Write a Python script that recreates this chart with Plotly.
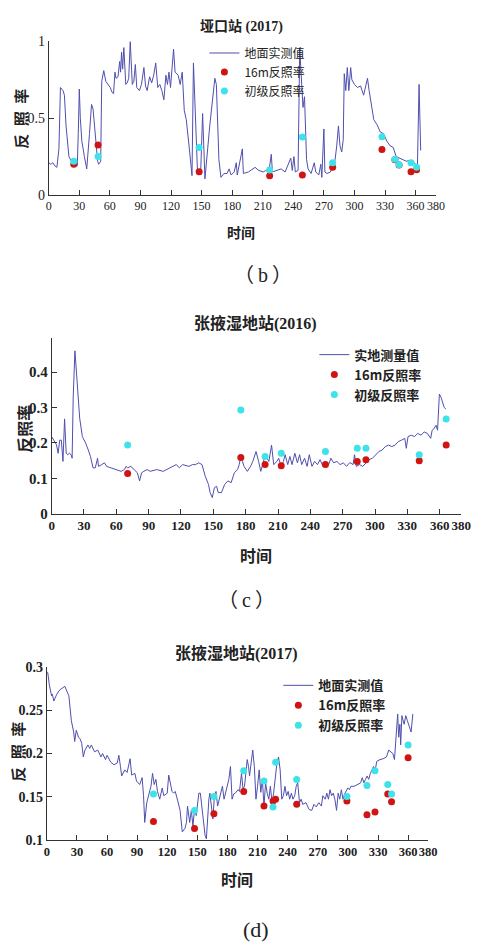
import plotly.graph_objects as go

# ---------------- (b) 垭口站 (2017) ----------------
b_days = [0, 2, 4, 6, 8, 10, 11.5, 13, 14, 15.4, 17, 19.8, 23, 25, 28, 29, 30, 31, 32.5, 35, 37.3, 40, 42, 43.5, 46, 48, 49, 51,
          52, 54, 56, 58, 60.4, 62, 63.6, 65, 66, 68, 69.6, 70.5, 71.5, 72.5, 73.7, 75.6, 77, 78.5, 80, 82, 83.5, 85, 86.4, 89,
          91, 93.4, 95, 96.6, 99, 101, 103, 105, 107, 109, 111, 113, 115, 116.5, 118, 119.5, 120.5, 122.5, 124, 127, 129, 131,
          133, 135, 138, 140.6, 142, 144, 146, 149, 151, 153.3, 158, 163, 164.5, 167, 169, 172, 175, 177, 179, 182, 184, 185,
          190, 191, 196, 202.5, 206, 210.5, 213, 216, 218.4, 219.5, 228, 232, 237.5, 239, 240.6, 242, 244.7, 246.3, 248, 249.5,
          251, 252, 253, 254.5, 257.4, 260.6, 262, 265, 267, 268, 270, 271, 273, 276.4, 278.5, 281, 282.6, 284.3, 285.8, 287.5,
          289, 290, 291.5, 293, 294.5, 296.3, 297.5, 300, 303, 306, 309, 311, 312.8, 314.4, 316, 319, 322, 325.4, 328.5, 331.8,
          335, 338, 341, 344.4, 347.6, 350.8, 354, 357, 360, 361.8, 363.4, 365]
b_vals = [0.21, 0.2, 0.21, 0.19, 0.18, 0.3, 0.7, 0.69, 0.68, 0.65, 0.45, 0.25, 0.21, 0.2, 0.19, 0.4, 0.69, 0.5, 0.35, 0.25, 0.17,
          0.4, 0.59, 0.56, 0.35, 0.22, 0.2, 0.22,
          0.74, 0.81, 0.74, 0.72, 0.7, 0.67, 0.66, 0.8, 0.76, 0.77, 0.87, 0.8, 0.93, 0.82, 0.96, 0.72, 0.73, 0.76, 1.0, 0.72, 0.74,
          0.85, 0.7, 0.68,
          0.72, 0.83, 0.71, 0.68, 0.77, 0.73, 0.78, 0.86, 0.7, 0.72, 0.68, 0.62, 0.78, 0.72, 0.8, 0.7, 0.77, 0.95, 0.8, 0.78, 0.72,
          0.8,
          0.55, 0.49, 0.3, 0.126, 0.86, 0.51, 0.15, 0.13, 0.53, 0.105, 0.45, 0.76, 0.72, 0.23, 0.115, 0.14, 0.14, 0.17, 0.13,
          0.15, 0.21, 0.13,
          0.3, 0.14, 0.15, 0.18, 0.16, 0.15, 0.16, 0.15, 0.265, 0.15, 0.17, 0.15, 0.24, 0.16, 0.25, 0.15, 0.16, 0.955, 0.72, 0.57,
          0.64, 0.43, 0.23, 0.17, 0.14, 0.21, 0.15, 0.13, 0.2, 0.115, 0.43, 0.15, 0.14, 0.15, 0.19, 0.23, 0.32, 0.45, 0.32, 0.28,
          0.36, 0.79, 0.68, 0.83, 0.68, 0.83, 0.75, 0.72, 0.7, 0.71, 0.65, 0.7, 0.76, 0.68, 0.62, 0.49, 0.46, 0.41, 0.4, 0.35,
          0.32, 0.31, 0.25, 0.24, 0.23, 0.22, 0.225, 0.22, 0.2, 0.19, 0.72, 0.29]
b_red_days = [24.6, 48.4, 147.6, 216.8, 248.9, 278.6, 327, 339.7, 343.8, 355.5, 361]
b_red_vals = [0.2, 0.325, 0.152, 0.126, 0.13, 0.18, 0.297, 0.23, 0.195, 0.152, 0.165]
b_cyan_days = [24.6, 48.4, 147.6, 216.8, 248.9, 278.6, 327, 339.7, 343.8, 355.5, 361]
b_cyan_vals = [0.22, 0.25, 0.31, 0.162, 0.378, 0.21, 0.38, 0.233, 0.197, 0.21, 0.18]

# ---------------- (c) 张掖湿地站(2016) ----------------
c_days = [0, 1.5, 3, 4.5, 6, 7.5, 9, 10.5, 12, 13.5, 15, 16.5, 18, 19, 20, 21.6, 23, 24.6, 26, 28.5, 31.5, 34, 36, 38.4, 40.5,
          42.6, 43.5, 46.5, 49, 51, 55.5, 60, 64.5, 67.5, 69, 70.5, 73.5, 76.5, 79.5, 81.6, 83.4, 85.5, 88.5, 91.5, 97.5, 103.5,
          109.5, 112.5, 115.5, 118.5, 121.5, 127.5, 130.5, 133.5, 136.5, 139.5, 142.5, 145.5, 147, 149, 151, 153, 154.5, 157.5,
          160.5, 163.5, 166.5, 169.5, 172.5, 174, 175.5, 177, 178.5, 181.5, 184.5, 186.6, 189.6, 192, 194, 197, 199, 201.5, 204,
          206, 209, 210.6, 213, 215, 216.6, 219, 221, 223, 225.6, 228, 230, 232, 234.6, 237, 239, 241.5, 244, 246.6, 249, 251.7,
          254, 257, 259, 261.6, 264.6, 267.6, 270.6, 273.6, 276.6, 279.6, 281, 282.6, 285.6, 288.6, 291.6, 294.6, 297.6, 300.6,
          303.6, 306.6, 309.6, 312.6, 315.6, 318.6, 321.6, 324.6, 327.6, 329, 330.6, 333.6, 336.6, 339.6, 342.6, 345.6, 348.6,
          351.6, 353, 354.6, 356.6, 358, 359.7, 361.2, 362.7, 364.2, 365.7]
c_vals = [0.218, 0.21, 0.2, 0.195, 0.171, 0.208, 0.208, 0.148, 0.268, 0.171, 0.167, 0.171, 0.167, 0.157, 0.33, 0.46, 0.4, 0.33,
          0.27, 0.218, 0.2, 0.18, 0.162, 0.13, 0.13,
          0.157, 0.134, 0.139, 0.144, 0.134, 0.13, 0.126, 0.12, 0.125, 0.134, 0.13, 0.134, 0.125, 0.116, 0.093, 0.116, 0.12,
          0.125, 0.12, 0.125, 0.12,
          0.13, 0.134, 0.139, 0.13, 0.139, 0.134, 0.139, 0.139, 0.144, 0.139, 0.106, 0.083, 0.06, 0.046, 0.074, 0.078, 0.06, 0.06,
          0.083, 0.093, 0.088, 0.116, 0.125, 0.139, 0.162, 0.148, 0.134, 0.12, 0.134, 0.148, 0.176, 0.148, 0.12, 0.153, 0.162,
          0.148, 0.194,
          0.139, 0.148, 0.157, 0.134, 0.148, 0.167, 0.139, 0.162, 0.139, 0.171, 0.144, 0.167, 0.139, 0.157, 0.134, 0.167, 0.134,
          0.148, 0.139, 0.153, 0.134,
          0.148, 0.139, 0.157, 0.144, 0.148, 0.139, 0.144, 0.134, 0.145, 0.139, 0.167, 0.134, 0.139, 0.134, 0.144, 0.153, 0.157,
          0.167,
          0.176, 0.18, 0.19, 0.194, 0.19, 0.194, 0.204, 0.208, 0.213, 0.185, 0.218, 0.222, 0.218, 0.227, 0.222, 0.231, 0.227,
          0.213, 0.236, 0.24, 0.25, 0.236, 0.338, 0.329, 0.315, 0.3, 0.296]
c_red_days = [70.5, 175.5, 198, 213, 254, 283.5, 291.6, 341, 366]
c_red_vals = [0.114, 0.159, 0.139, 0.136, 0.139, 0.148, 0.153, 0.15, 0.194]
c_cyan_days = [70.5, 175.5, 198, 213, 254, 283.5, 291.6, 341, 366]
c_cyan_vals = [0.194, 0.293, 0.162, 0.171, 0.176, 0.185, 0.185, 0.167, 0.268]

# ---------------- (d) 张掖湿地站(2017) ----------------
d_days = [0, 1, 2.5, 4.8, 5.5, 7, 10, 13, 18, 19.6, 22, 24.5, 26.8, 27.8, 29.4, 31.6, 33.2, 34.8, 36.4, 38, 41, 42.8, 44.4,
          47.6, 50.8, 54, 55.6, 58.5, 60.1, 63.7, 66.9, 70.2, 71.8, 73.4, 74.6, 77.8, 80, 83, 84.6, 87.8, 89.4, 92.6, 95, 96.4,
          97.6, 99.6, 102, 103.8, 105.4, 107, 108.7, 110.3, 112.5, 115, 116.6, 118.4, 120, 121.5, 123.2, 124.8, 126.4, 128,
          130.5, 132.8, 135, 137.6, 139.2, 140.2, 142.4, 144, 145.6, 147.2, 148.9, 150.5, 151.5, 153, 154.7, 157.7, 159, 160.3,
          161.5, 162.5, 164, 165.5, 167, 168.6, 170.2, 171.8, 173.4, 175, 176.6, 178.2, 179.8, 181.4, 183, 184.6, 186.2, 187.8,
          190.6, 192, 194, 195.5, 197, 199.7, 201, 202, 203.6, 205.2, 206.8, 208.4, 210, 211.6, 213.2, 214.8, 216.4, 218, 219.6,
          221.2, 222.8, 224.4, 226, 229.3, 230.9, 232.5, 234.1, 235.7, 237.3, 238.9, 240.5, 242, 243.7, 245.3, 247, 248.5, 250,
          251.8, 253.4, 255, 258.2, 261.4, 264, 266.2, 268.5, 271, 273.6, 275, 277.4, 279, 280.6, 282.2, 283.8, 285.4, 287,
          288.7, 290.3, 291.9, 293.5, 295.1, 296.7, 298.3, 299.9, 301.5, 303.1, 306.3, 309.5, 312.7, 314.3, 315.9, 317.5, 319.1,
          320.7, 322.4, 325.6, 327.2, 328.8, 332, 335.2, 338.4, 340.7, 342.6, 344.8, 346.4, 348, 349.6, 350.6, 351.8, 352.6,
          353.8, 356, 357.7, 359.3, 361, 363, 364.7]
d_vals = [0.295, 0.294, 0.28, 0.267, 0.269, 0.261, 0.269, 0.274, 0.278, 0.273, 0.267, 0.238, 0.225, 0.214, 0.227, 0.219, 0.217,
          0.212, 0.196, 0.204, 0.21, 0.206, 0.21,
          0.202, 0.204, 0.196, 0.2, 0.193, 0.198, 0.19, 0.187, 0.189, 0.198, 0.185, 0.174, 0.181, 0.178, 0.194, 0.175, 0.177,
          0.168, 0.164, 0.172, 0.151,
          0.12, 0.143, 0.154, 0.162, 0.177, 0.164, 0.17, 0.156, 0.147, 0.16, 0.151, 0.153, 0.154, 0.175, 0.164, 0.156, 0.154,
          0.156,
          0.145, 0.134, 0.109, 0.113, 0.12, 0.139, 0.12, 0.134, 0.116, 0.135, 0.128, 0.147, 0.154, 0.154, 0.134, 0.105, 0.101,
          0.126,
          0.147, 0.154, 0.139, 0.124, 0.151, 0.156, 0.139, 0.147, 0.153, 0.162, 0.147, 0.156, 0.162, 0.17, 0.185, 0.147, 0.153,
          0.154,
          0.158, 0.156, 0.177, 0.159, 0.162, 0.193, 0.185, 0.174, 0.189, 0.204, 0.185, 0.147, 0.162, 0.181, 0.155, 0.17, 0.139,
          0.166, 0.154,
          0.147, 0.162, 0.143, 0.154, 0.189, 0.196, 0.181, 0.147, 0.151, 0.162, 0.151, 0.156, 0.147, 0.154, 0.147, 0.151, 0.162,
          0.166,
          0.143, 0.147, 0.141, 0.143, 0.135, 0.134, 0.141, 0.138, 0.143, 0.139, 0.151, 0.147, 0.154, 0.147, 0.158, 0.151, 0.154,
          0.147,
          0.134, 0.154, 0.147, 0.158, 0.147, 0.153, 0.156, 0.16, 0.158, 0.162, 0.162, 0.164, 0.166, 0.172, 0.166, 0.17, 0.174,
          0.17, 0.177, 0.185, 0.181, 0.191, 0.193, 0.194, 0.196, 0.204, 0.202, 0.2, 0.193, 0.223, 0.246, 0.219, 0.234, 0.21,
          0.244, 0.234, 0.244, 0.238, 0.231, 0.225, 0.246]
d_red_days = [106.3, 147.2, 166.5, 196.2, 216.4, 225.4, 228, 249, 299, 319, 327, 339.7, 343.5, 360]
d_red_vals = [0.121, 0.113, 0.13, 0.156, 0.139, 0.145, 0.147, 0.141, 0.145, 0.129, 0.132, 0.153, 0.144, 0.195]
d_cyan_days = [106.3, 147.2, 166.5, 196.2, 216.4, 225.4, 228, 249, 299, 319, 327, 339.7, 343.5, 360]
d_cyan_vals = [0.153, 0.134, 0.15, 0.18, 0.168, 0.138, 0.19, 0.17, 0.15, 0.163, 0.18, 0.164, 0.153, 0.21]

x_ticks = [0, 30, 60, 90, 120, 150, 180, 210, 240, 270, 300, 330, 360, 380]

W, H = 481, 952
LINE_C = "#4f4fae"
RED_C = "#d01414"
CYAN_C = "#3ee3ea"
FONT = "Liberation Serif, Noto Sans CJK SC, serif"
CJK = "Noto Sans CJK SC, Liberation Serif"


def px_x(p):
    return p / W


def px_y(p):
    return 1 - p / H


fig = go.Figure()

panels = [
    dict(key="", days=b_days, vals=b_vals, rd=b_red_days, rv=b_red_vals, cd=b_cyan_days, cv=b_cyan_vals,
         names=["地面实测值", "16m反照率", "初级反照率"], legend="legend"),
    dict(key="2", days=c_days, vals=c_vals, rd=c_red_days, rv=c_red_vals, cd=c_cyan_days, cv=c_cyan_vals,
         names=["实地测量值", "16m反照率", "初级反照率"], legend="legend2"),
    dict(key="3", days=d_days, vals=d_vals, rd=d_red_days, rv=d_red_vals, cd=d_cyan_days, cv=d_cyan_vals,
         names=["地面实测值", "16m反照率", "初级反照率"], legend="legend3"),
]

for p in panels:
    xa = "x" + p["key"]
    ya = "y" + p["key"]
    fig.add_trace(go.Scatter(x=p["days"], y=p["vals"], mode="lines", name=p["names"][0],
                             line=dict(color=LINE_C, width=1), xaxis=xa, yaxis=ya, legend=p["legend"]))
    fig.add_trace(go.Scatter(x=p["rd"], y=p["rv"], mode="markers", name=p["names"][1],
                             marker=dict(color=RED_C, size=7), xaxis=xa, yaxis=ya, legend=p["legend"]))
    fig.add_trace(go.Scatter(x=p["cd"], y=p["cv"], mode="markers", name=p["names"][2],
                             marker=dict(color=CYAN_C, size=7), xaxis=xa, yaxis=ya, legend=p["legend"]))

axis_common = dict(showline=True, linecolor="#333", linewidth=1, ticks="inside", ticklen=5, tickcolor="#333",
                   showgrid=False, zeroline=False, mirror=False, tickangle=0)

# panel geometry (pixels)
geo = {
    "": dict(x0=47, x1=445, ybot=191, ytop=35, yr=[0, 1.0], yt=[0, 0.5, 1], ytt=["0", "0.5", "1"],
             tf=12, yf=14, tw="normal"),
    "2": dict(x0=50, x1=471, ybot=515, ytop=336, yr=[0, 0.497], yt=[0, 0.1, 0.2, 0.3, 0.4],
              ytt=["0", "0.1", "0.2", "0.3", "0.4"], tf=13, yf=15, tw="bold"),
    "3": dict(x0=45, x1=437, ybot=846, ytop=671, yr=[0.1, 0.3], yt=[0.1, 0.15, 0.2, 0.25, 0.3],
              ytt=["0.1", "0.15", "0.2", "0.25", "0.3"], tf=12.5, yf=14, tw="bold"),
}

layout = dict(width=W, height=H, margin=dict(l=0, r=0, t=0, b=0), paper_bgcolor="white", plot_bgcolor="white",
              font=dict(family=FONT, color="#222"))
for k, g in geo.items():
    layout["xaxis" + k] = dict(axis_common, domain=[px_x(g["x0"]), px_x(g["x1"])], range=[0, 380],
                               tickvals=x_ticks, ticktext=[str(t) for t in x_ticks], anchor="y" + k,
                               tickfont=dict(family=FONT, size=g["tf"], weight=g["tw"], color="#222"))
    layout["yaxis" + k] = dict(axis_common, domain=[px_y(g["ybot"]), px_y(g["ytop"])], range=g["yr"],
                               tickvals=g["yt"], ticktext=g["ytt"], anchor="x" + k,
                               tickfont=dict(family=FONT, size=g["yf"], weight=g["tw"], color="#222"))

layout["legend"] = dict(x=px_x(207), y=px_y(32), xanchor="left", yanchor="top", bgcolor="rgba(0,0,0,0)",
                        font=dict(family=CJK, size=12, color="#222"), itemwidth=30, tracegroupgap=0)
layout["legend2"] = dict(x=px_x(320), y=px_y(338), xanchor="left", yanchor="top", bgcolor="rgba(0,0,0,0)",
                         font=dict(family=CJK, size=13, color="#222", weight="bold"), itemwidth=30)
layout["legend3"] = dict(x=px_x(283), y=px_y(674), xanchor="left", yanchor="top", bgcolor="rgba(0,0,0,0)",
                         font=dict(family=CJK, size=13, color="#222", weight="bold"), itemwidth=30)

fig.update_layout(**layout)

texts = [
    ("垭口站 (2017)", 245, 20, 14, 0, "bold"),
    ("反\u2002照\u2002率", 19, 113, 15, -90, "bold"),
    ("时间", 245, 230, 14, 0, "bold"),
    ("（\u2009b\u2009）", 267, 272, 20, 0, "normal"),
    ("张掖湿地站(2016)", 260, 322, 16, 0, "bold"),
    ("反照率", 23, 428, 16, -90, "bold"),
    ("时间", 260, 558, 16, 0, "bold"),
    ("（\u2009c\u2009）", 250, 603, 20, 0, "normal"),
    ("张掖湿地站(2017)", 240, 657, 16, 0, "bold"),
    ("反\u2002照\u2002率", 15, 757, 15, -90, "bold"),
    ("时间", 240, 887, 16, 0, "bold"),
    ("(d)", 260, 937, 22, 0, "normal"),
]
for t, x, y, s, ang, w in texts:
    fig.add_annotation(text=t, x=px_x(x), y=px_y(y), xref="paper", yref="paper", showarrow=False,
                       xanchor="center", yanchor="middle", textangle=ang,
                       font=dict(family=FONT, size=s, color="#222", weight=w))

fig.write_html("out.html")
